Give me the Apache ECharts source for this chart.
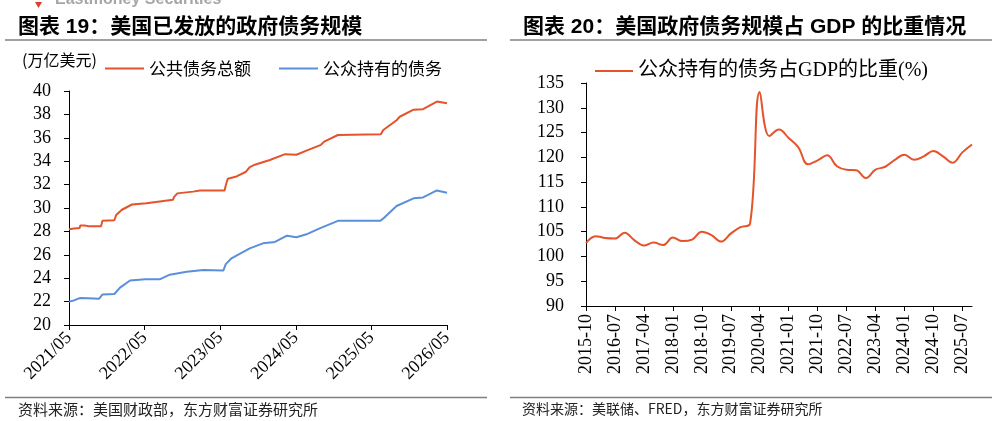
<!DOCTYPE html>
<html><head><meta charset="utf-8">
<script src="https://cdn.jsdelivr.net/npm/echarts@6/dist/echarts.min.js"></script>
<style>html,body{margin:0;padding:0;background:#fff}#c{width:997px;height:421px}</style>
</head><body><div id="c"></div>
<script>
// ---- Left chart: 美国已发放的政府债务规模 (万亿美元) ----
const totalDates = ['2021-05-01','2021-05-25','2021-06-22','2021-06-25','2021-07-16','2021-08-01','2021-10-04','2021-10-10','2021-12-07','2021-12-16','2022-01-13','2022-03-01','2022-05-10','2022-07-13','2022-09-16','2022-09-22','2022-10-07','2022-12-22','2023-01-25','2023-05-22','2023-05-28','2023-06-07','2023-07-19','2023-09-04','2023-09-22','2023-10-16','2023-12-28','2024-03-10','2024-05-04','2024-06-22','2024-09-01','2024-09-16','2024-11-22','2025-06-16','2025-06-28','2025-09-01','2025-09-16','2025-11-22','2026-01-07','2026-03-13','2026-05-01'];
const totalDebt = [28.18,28.25,28.3,28.5,28.5,28.45,28.45,28.9,28.95,29.4,29.85,30.3,30.4,30.55,30.7,30.95,31.25,31.4,31.5,31.5,31.95,32.5,32.7,33.1,33.5,33.7,34.1,34.6,34.55,34.9,35.4,35.67,36.24,36.3,36.67,37.5,37.8,38.4,38.45,39.1,38.95];
const heldDates = ['2021-05-01','2021-05-25','2021-06-22','2021-08-01','2021-09-25','2021-10-01','2021-10-10','2021-12-07','2022-01-04','2022-02-22','2022-05-04','2022-07-13','2022-09-01','2022-11-22','2023-02-10','2023-05-16','2023-05-28','2023-06-25','2023-09-22','2023-11-25','2024-01-22','2024-03-19','2024-05-04','2024-06-22','2024-08-25','2024-11-22','2025-06-13','2025-06-28','2025-09-01','2025-11-22','2026-01-07','2026-03-13','2026-05-01'];
const heldDebt = [22.0,22.1,22.3,22.28,22.25,22.1,22.6,22.65,23.2,23.8,23.9,23.9,24.3,24.55,24.7,24.65,25.2,25.7,26.55,26.98,27.1,27.63,27.5,27.75,28.26,28.9,28.9,29.1,30.17,30.83,30.9,31.5,31.3];
const leftXLabels = ['2021/05','2022/05','2023/05','2024/05','2025/05','2026/05'];

// ---- Right chart: 公众持有的债务占GDP的比重(%) ----
const quarters = ['2015-10','2016-01','2016-04','2016-07','2016-10','2017-01','2017-04','2017-07','2017-10','2018-01','2018-04','2018-07','2018-10','2019-01','2019-04','2019-07','2019-10','2020-01','2020-04','2020-07','2020-10','2021-01','2021-04','2021-07','2021-10','2022-01','2022-04','2022-07','2022-10','2023-01','2023-04','2023-07','2023-10','2024-01','2024-04','2024-07','2024-10','2025-01','2025-04','2025-07','2025-10'];
const debtToGdp = [102.7,104.1,103.7,103.6,104.8,103.3,102.2,102.8,102.3,103.8,103.1,103.4,105.0,104.3,103.0,104.6,105.9,106.6,133.2,124.3,125.6,123.9,122.0,118.6,119.4,120.4,118.2,117.5,117.4,115.8,117.5,118.1,119.5,120.5,119.5,120.2,121.3,120.2,118.9,121.0,122.6];

function toMonths(s){const p=s.split('-').map(Number);return (p[0]-2021)*12+(p[1]-5)+(p[2]-1)/30.44;}
const pair=(ds,vs)=>ds.map((d,i)=>[toMonths(d),vs[i]]);

const RED='#E5532B', BLUE='#5B8FD9';
const CJK="'Noto Sans CJK SC', sans-serif";
const SERIF="'Liberation Serif', 'Noto Sans CJK SC', serif";
const BOLD="'Liberation Sans', 'Noto Sans CJK SC', sans-serif";

const chart = echarts.init(document.getElementById('c'), null, {renderer:'canvas'});
const axisLine={show:true,lineStyle:{color:'#000',width:1}};
chart.setOption({
  animation:false,
  backgroundColor:'#fff',
  grid:[
    {left:69,top:91,width:378,height:234,containLabel:false},
    {left:586,top:83,width:386,height:223,containLabel:false}
  ],
  legend:[
    {left:100,top:55,itemWidth:39,itemHeight:2,itemGap:28,icon:'rect',data:['公共债务总额','公众持有的债务'],
     textStyle:{fontFamily:CJK,fontSize:17,color:'#000'}},
    {left:590,top:56,itemWidth:38,itemHeight:2,icon:'rect',data:['公众持有的债务占GDP的比重(%)'],
     textStyle:{fontFamily:SERIF,fontSize:20,color:'#000'}}
  ],
  xAxis:[
    {type:'value',gridIndex:0,min:0,max:60,interval:12,axisLine,splitLine:{show:false},
     axisTick:{show:true,length:5,lineStyle:{color:'#000'}},
     axisLabel:{rotate:45,margin:10,fontFamily:SERIF,fontSize:18,color:'#000',formatter:v=>leftXLabels[Math.round(v/12)]}},
    {type:'category',gridIndex:1,data:quarters,boundaryGap:false,axisLine,
     axisTick:{show:true,interval:2,length:5,lineStyle:{color:'#000'}},
     axisLabel:{interval:2,rotate:90,margin:8,fontFamily:SERIF,fontSize:18,color:'#000'}}
  ],
  yAxis:[
    {type:'value',gridIndex:0,min:20,max:40,interval:2,axisLine,splitLine:{show:false},
     axisTick:{show:true,length:5,lineStyle:{color:'#000'}},
     axisLabel:{margin:18,fontFamily:SERIF,fontSize:18,color:'#000'}},
    {type:'value',gridIndex:1,min:90,max:135,interval:5,axisLine,splitLine:{show:false},
     axisTick:{show:true,length:5,lineStyle:{color:'#000'}},
     axisLabel:{margin:22,fontFamily:SERIF,fontSize:18,color:'#000'}}
  ],
  series:[
    {name:'公共债务总额',type:'line',xAxisIndex:0,yAxisIndex:0,data:pair(totalDates,totalDebt),showSymbol:false,symbol:'none',
     lineStyle:{color:RED,width:2},itemStyle:{color:RED}},
    {name:'公众持有的债务',type:'line',xAxisIndex:0,yAxisIndex:0,data:pair(heldDates,heldDebt),showSymbol:false,symbol:'none',
     lineStyle:{color:BLUE,width:2},itemStyle:{color:BLUE}},
    {name:'公众持有的债务占GDP的比重(%)',type:'line',xAxisIndex:1,yAxisIndex:1,data:debtToGdp,smooth:0.4,showSymbol:false,symbol:'none',
     lineStyle:{color:RED,width:2},itemStyle:{color:RED}}
  ],
  graphic:[
    {type:'polygon',shape:{points:[[35,2],[42,2],[38.5,8]]},style:{fill:'#E03C31'}},
    {type:'text',x:55,y:0,style:{text:'Eastmoney Securities',font:"bold 16px 'Liberation Sans', sans-serif",fill:'#a6a6a6',verticalAlign:'middle'}},
    {type:'text',x:18,y:27,style:{text:'图表 19：美国已发放的政府债务规模',font:"bold 21px "+BOLD,fill:'#000',verticalAlign:'middle'}},
    {type:'text',x:523,y:27,style:{text:'图表 20：美国政府债务规模占 GDP 的比重情况',font:"bold 21px "+BOLD,fill:'#000',verticalAlign:'middle'}},
    {type:'line',shape:{x1:5,y1:40,x2:487,y2:40},style:{stroke:'#808080',lineWidth:1.5}},
    {type:'line',shape:{x1:510,y1:40,x2:992,y2:40},style:{stroke:'#808080',lineWidth:1.5}},
    {type:'text',x:22,y:60,style:{text:'(万亿美元)',font:"16px "+CJK,fill:'#000',verticalAlign:'middle'}},
    {type:'line',shape:{x1:5,y1:397.5,x2:487,y2:397.5},style:{stroke:'#808080',lineWidth:1.5}},
    {type:'line',shape:{x1:510,y1:397.5,x2:992,y2:397.5},style:{stroke:'#808080',lineWidth:1.5}},
    {type:'text',x:18,y:409,style:{text:'资料来源：美国财政部，东方财富证券研究所',font:"15px "+CJK,fill:'#222',verticalAlign:'middle'}},
    {type:'text',x:522,y:409,style:{text:'资料来源：美联储、FRED，东方财富证券研究所',font:"14px "+CJK,fill:'#222',verticalAlign:'middle'}}
  ]
});
</script></body></html>
